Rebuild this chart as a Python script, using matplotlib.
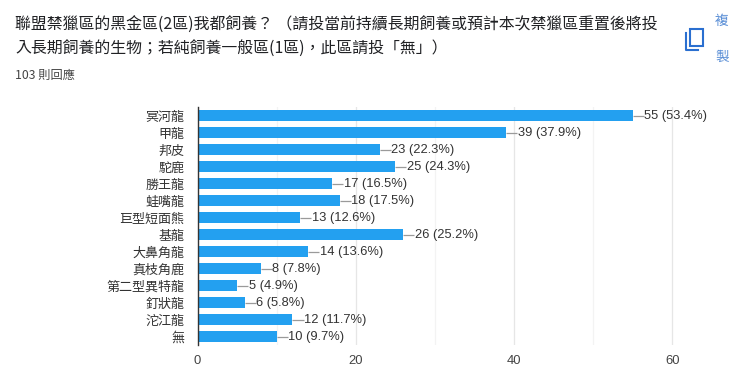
import matplotlib.pyplot as plt
import numpy as np

plt.rcParams['font.family'] = ['Noto Sans CJK TC', 'Liberation Sans', 'DejaVu Sans']

categories = ['冥河龍', '甲龍', '邦皮', '駝鹿', '勝王龍', '蛙嘴龍', '巨型短面熊', '基龍',
              '大鼻角龍', '真枝角鹿', '第二型異特龍', '釘狀龍', '沱江龍', '無']
counts = [55, 39, 23, 25, 17, 18, 13, 26, 14, 8, 5, 6, 12, 10]
percents = ['53.4', '37.9', '22.3', '24.3', '16.5', '17.5', '12.6', '25.2',
            '13.6', '7.8', '4.9', '5.8', '11.7', '9.7']
major_ticks = [0, 20, 40, 60]
minor_ticks = [10, 30, 50]
title_lines = ['聯盟禁獵區的黑金區(2區)我都飼養？ （請投當前持續長期飼養或預計本次禁獵區重置後將投',
               '入長期飼養的生物；若純飼養一般區(1區)，此區請投「無」）']
subtitle = '103 則回應'

W, H = 741, 378
fig = plt.figure(figsize=(W / 100, H / 100), dpi=100)

# axes box in pixels
left, right, top, bottom = 197.5, 710, 107, 345
ax = fig.add_axes([left / W, 1 - bottom / H, (right - left) / W, (bottom - top) / H])
ax.set_xlim(0, (right - left) / 7.915)
ax.set_ylim(len(counts) - 0.5, -0.5)

y = np.arange(len(counts))
ax.barh(y, counts, height=0.6, color='#23a0f0', zorder=3)

# leader line + label for each bar
for i, (c, p) in enumerate(zip(counts, percents)):
    ax.plot([c, c + 1.4], [i, i], color='#9a9a9a', lw=0.9, zorder=2, solid_capstyle='butt')
    ax.text(c + 1.45, i + 0.02, f'{c} ({p}%)', va='center', ha='left', fontsize=9.3,
            color='#333333', family=['Liberation Sans', 'DejaVu Sans'])

ax.set_xticks(major_ticks)
ax.set_xticks(minor_ticks, minor=True)
ax.set_xticklabels(major_ticks, fontsize=9.4, color='#444444', family=['Liberation Sans'])
ax.set_yticks(y)
ax.set_yticklabels(categories, fontsize=9.4, color='#333333')
ax.tick_params(axis='both', which='both', length=0)
ax.tick_params(axis='x', pad=7)
ax.tick_params(axis='y', pad=9.5)

ax.grid(axis='x', which='major', color='#e6e6e6', lw=0.9, zorder=0)
ax.grid(axis='x', which='minor', color='#f3f3f3', lw=0.9, zorder=0)
for s in ['top', 'right', 'bottom']:
    ax.spines[s].set_visible(False)
ax.spines['left'].set_color('#333333')
ax.spines['left'].set_linewidth(1.0)
ax.spines['left'].set_zorder(4)

# header text
fig.text(15 / W, 1 - 25 / H, title_lines[0], fontsize=11.45, color='#202124', va='center', ha='left')
fig.text(15 / W, 1 - 49 / H, title_lines[1], fontsize=11.45, color='#202124', va='center', ha='left')
fig.text(15 / W, 1 - 75 / H, subtitle, fontsize=8.8, color='#444444', va='center', ha='left')

# copy button
fig.text(722 / W, 1 - 21 / H, '複', fontsize=9.8, color='#5b8fd6', va='center', ha='center')
fig.text(722 / W, 1 - 57 / H, '製', fontsize=9.8, color='#5b8fd6', va='center', ha='center')
icon = fig.add_axes([0, 0, 1, 1], facecolor='none')
icon.set_xlim(0, W)
icon.set_ylim(H, 0)
icon.axis('off')
icon.add_patch(plt.Rectangle((689.5, 29), 13, 16.5, fill=False, ec='#2a6fd0', lw=1.5))
icon.plot([685.5, 685.5, 698], [33, 49.5, 49.5], color='#2a6fd0', lw=1.5)

fig.savefig('out.png', dpi=100, facecolor='white')
